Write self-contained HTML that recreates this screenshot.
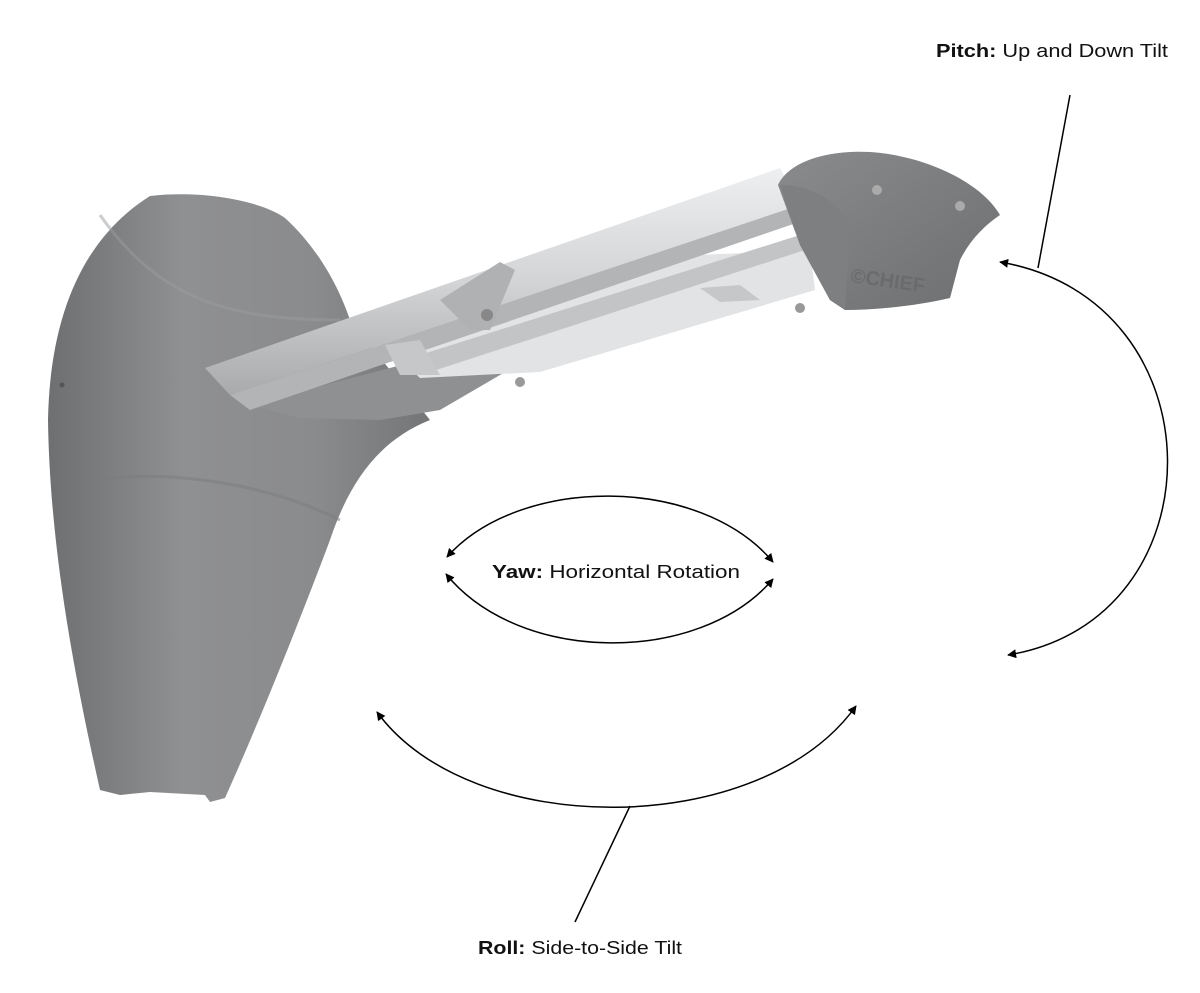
<!DOCTYPE html>
<html><head><meta charset="utf-8"><style>
html,body{margin:0;padding:0;background:#fff;}
svg{display:block;}
text{font-family:"Liberation Sans",sans-serif;font-size:18px;fill:#111;}
</style></head><body>
<svg width="1200" height="993" viewBox="0 0 1200 993" xmlns="http://www.w3.org/2000/svg">
<defs>
<linearGradient id="body" x1="0" y1="0" x2="1" y2="0">
<stop offset="0" stop-color="#6e6f71"/><stop offset="0.35" stop-color="#8f9092"/><stop offset="0.7" stop-color="#8a8b8d"/><stop offset="1" stop-color="#747577"/></linearGradient>
<linearGradient id="arm" x1="0" y1="0" x2="0" y2="1">
<stop offset="0" stop-color="#eeeff0"/><stop offset="0.5" stop-color="#d3d4d6"/><stop offset="1" stop-color="#a9aaac"/></linearGradient>
<linearGradient id="cap" x1="0" y1="0" x2="1" y2="1">
<stop offset="0" stop-color="#8a8b8d"/><stop offset="1" stop-color="#6d6e70"/></linearGradient>
<marker id="ah" viewBox="0 0 10 10" refX="9" refY="5" markerWidth="9" markerHeight="9" orient="auto-start-reverse" markerUnits="userSpaceOnUse" >
<path d="M0,0 L10,5 L0,10 z" fill="#000"/></marker>
</defs>
<!-- wall body -->
<path d="M150,196 C200,190 260,200 285,218 C320,250 340,290 350,320 L430,420 C380,440 350,480 330,540 C300,620 260,720 225,798 L210,802 L205,795 L150,792 L120,795 L100,790 C80,700 50,560 48,420 C50,320 80,240 150,196 Z" fill="url(#body)"/>
<path d="M95,480 C160,470 260,480 340,520" stroke="#7a7b7d" stroke-width="3" fill="none" opacity="0.5"/>
<path d="M100,215 C160,300 230,320 340,320" stroke="#9a9b9d" stroke-width="3" fill="none" opacity="0.5"/>
<!-- arm underside -->
<path d="M250,405 L420,360 L560,320 L560,340 L440,410 L380,420 L300,418 Z" fill="#8f9092"/>
<path d="M390,350 L700,255 L810,250 L815,290 L540,372 L420,378 Z" fill="#e2e3e5"/>
<path d="M420,355 L800,235 L805,250 L430,372 Z" fill="#c3c4c6"/>
<!-- arm top bar -->
<path d="M205,368 L780,168 L800,205 L230,395 Z" fill="url(#arm)"/>
<path d="M230,395 L800,205 L805,220 L250,410 Z" fill="#b3b4b6"/>
<path d="M440,300 L500,262 L515,270 L490,330 L470,330 Z" fill="#b0b1b3"/>
<circle cx="487" cy="315" r="6" fill="#888"/>
<!-- brackets -->
<path d="M385,345 L420,340 L440,375 L400,375 Z" fill="#c6c7c9"/>
<path d="M700,288 L740,285 L760,300 L720,302 Z" fill="#c6c7c9"/>
<circle cx="520" cy="382" r="5" fill="#999"/><circle cx="800" cy="308" r="5" fill="#999"/>
<!-- end cap -->
<path d="M778,185 C790,160 830,150 870,152 C920,155 980,180 1000,215 C985,225 970,240 960,260 L950,298 C920,305 880,310 845,310 L830,300 L800,245 Z" fill="url(#cap)"/>
<path d="M780,185 C810,185 840,200 850,230 L845,310 L830,300 L800,245 Z" fill="#7e7f81"/>
<circle cx="877" cy="190" r="5" fill="#aaa"/><circle cx="960" cy="206" r="5" fill="#aaa"/>
<text x="850" y="282" transform="rotate(8 850 282)" style="font-size:20px;font-weight:bold;fill:#6a6b6d">©CHIEF</text>
<circle cx="62" cy="385" r="2.5" fill="#555"/>
<!-- Pitch -->
<line x1="1070" y1="95" x2="1038" y2="268" stroke="#000" stroke-width="1.5"/>
<path d="M1000,262 C1222,300 1222,620 1008,655" stroke="#000" stroke-width="1.5" fill="none" marker-start="url(#ah)" marker-end="url(#ah)"/>
<!-- Yaw -->
<path d="M447,557 C520,475 700,475 773,562" stroke="#000" stroke-width="1.5" fill="none" marker-start="url(#ah)" marker-end="url(#ah)"/>
<path d="M446,574 C520,665 700,665 773,579" stroke="#000" stroke-width="1.5" fill="none" marker-start="url(#ah)" marker-end="url(#ah)"/>
<!-- Roll -->
<path d="M377,712 C470,840 760,840 856,706" stroke="#000" stroke-width="1.5" fill="none" marker-start="url(#ah)" marker-end="url(#ah)"/>
<line x1="630" y1="806" x2="575" y2="922" stroke="#000" stroke-width="1.5"/>
<text x="936" y="57" textLength="232" lengthAdjust="spacingAndGlyphs"><tspan font-weight="bold">Pitch:</tspan> Up and Down Tilt</text>
<text x="492" y="578" textLength="248" lengthAdjust="spacingAndGlyphs"><tspan font-weight="bold">Yaw:</tspan> Horizontal Rotation</text>
<text x="478" y="954" textLength="204" lengthAdjust="spacingAndGlyphs"><tspan font-weight="bold">Roll:</tspan> Side-to-Side Tilt</text>
</svg>
</body></html>
